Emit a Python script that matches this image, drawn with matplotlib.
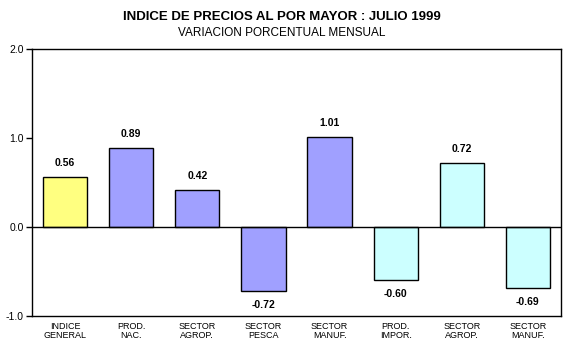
import matplotlib
matplotlib.use("Agg")
import matplotlib.pyplot as plt

plt.rcParams['font.family'] = ['Liberation Sans', 'DejaVu Sans']

# data
categories = ['INDICE\nGENERAL', 'PROD.\nNAC.', 'SECTOR\nAGROP.', 'SECTOR\nPESCA',
              'SECTOR\nMANUF.', 'PROD.\nIMPOR.', 'SECTOR\nAGROP.', 'SECTOR\nMANUF.']
values = [0.56, 0.89, 0.42, -0.72, 1.01, -0.60, 0.72, -0.69]
bar_colors = ['#FFFF80', '#A0A0FF', '#A0A0FF', '#A0A0FF', '#A0A0FF',
              '#CCFFFF', '#CCFFFF', '#CCFFFF']

fig = plt.figure(figsize=(5.64, 3.54), dpi=100)
ax = fig.add_axes([32 / 564, 1 - 316 / 354, (561 - 32) / 564, (316 - 49) / 354])

x = range(len(values))
ax.bar(x, values, width=0.67, color=bar_colors, edgecolor='black', linewidth=1.0, zorder=2)
ax.axhline(0, color='black', linewidth=1.0, zorder=3)

for i, v in enumerate(values):
    if v >= 0:
        ax.text(i, v + 0.1, f'{v:.2f}', ha='center', va='bottom', fontsize=7.5, fontweight='bold')
    else:
        ax.text(i, v - 0.1, f'{v:.2f}', ha='center', va='top', fontsize=7.5, fontweight='bold')

ax.set_xlim(-0.5, len(values) - 0.5)
ax.set_ylim(-1.0, 2.0)
ax.set_yticks([-1.0, 0.0, 1.0, 2.0])
ax.set_yticklabels(['-1.0', '0.0', '1.0', '2.0'], fontsize=7.5)
ax.set_xticks(list(x))
ax.set_xticklabels(categories, fontsize=6.5, linespacing=1.0)
ax.tick_params(axis='x', length=0, pad=4)
ax.tick_params(axis='y', length=4, width=1, direction='out', pad=2)
for s in ax.spines.values():
    s.set_linewidth(1.0)

fig.text(0.5, 1 - 17 / 354, 'INDICE DE PRECIOS AL POR MAYOR : JULIO 1999',
         ha='center', va='center', fontsize=9.5, fontweight='bold')
fig.text(0.5, 1 - 33 / 354, 'VARIACION PORCENTUAL MENSUAL',
         ha='center', va='center', fontsize=8.5)

fig.savefig('out.png', dpi=100)
